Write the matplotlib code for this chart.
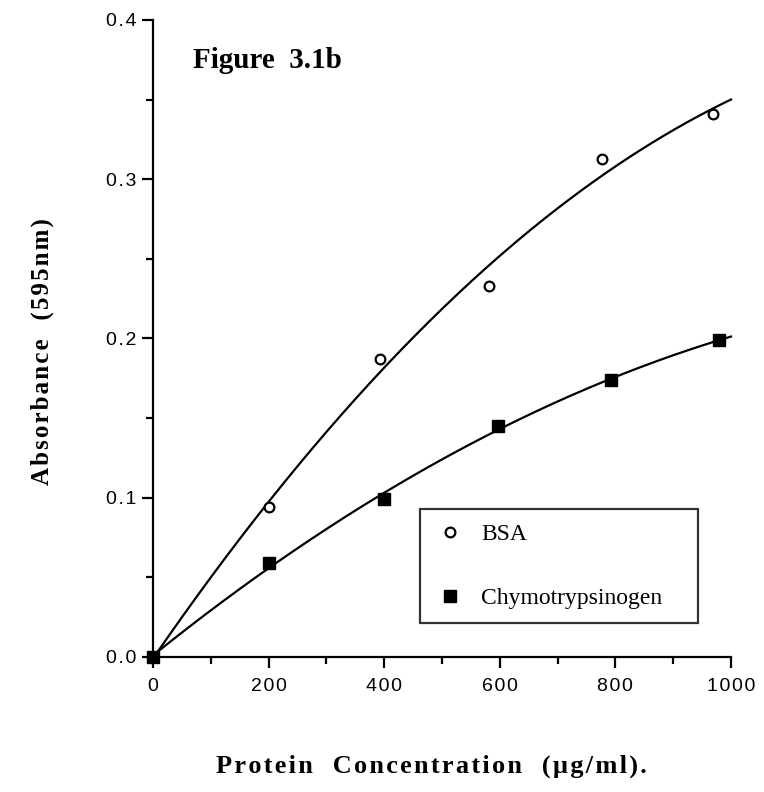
import numpy as np
import matplotlib
matplotlib.use("Agg")
import matplotlib.pyplot as plt
from matplotlib.ticker import MultipleLocator, FuncFormatter

# readings from the figure
conc_bsa = [0, 200, 393, 581, 777, 969]
abs_bsa = [0.0, 0.094, 0.187, 0.233, 0.313, 0.341]
conc_chymo = [0, 200, 400, 597, 792, 979]
abs_chymo = [0.0, 0.059, 0.099, 0.145, 0.174, 0.199]

HS = "\u200a"  # hair space, fakes the wide letter spacing of the scan


def spaced(s):
    return "   ".join(HS.join(w) for w in s.split(" "))


fig = plt.figure(figsize=(7.64, 7.92), dpi=100)
ax = fig.add_axes([0.2003, 0.1705, 0.7565, 0.8043])

# quadratic fits through the data, as in the original plot
xs = np.linspace(0, 1000, 200)
fit_bsa = np.polyfit(conc_bsa, abs_bsa, 2)
fit_chymo = np.polyfit(conc_chymo, abs_chymo, 2)
ax.plot(xs, np.polyval(fit_bsa, xs), color="black", lw=1.6, clip_on=False)
ax.plot(xs, np.polyval(fit_chymo, xs), color="black", lw=1.6, clip_on=False)

ax.plot(conc_bsa, abs_bsa, "o", ms=7, mfc="white", mec="black", mew=1.6,
        ls="none", label="BSA", clip_on=False, zorder=3)
ax.plot(conc_chymo, abs_chymo, "s", ms=9, color="black", ls="none",
        label="Chymotrypsinogen", clip_on=False, zorder=3)

ax.set_xlim(0, 1000)
ax.set_ylim(0, 0.4)
ax.xaxis.set_major_locator(MultipleLocator(200))
ax.xaxis.set_minor_locator(MultipleLocator(100))
ax.yaxis.set_major_locator(MultipleLocator(0.1))
ax.yaxis.set_minor_locator(MultipleLocator(0.05))
ax.xaxis.set_major_formatter(FuncFormatter(lambda v, p: HS.join(str(int(round(v))))))
ax.yaxis.set_major_formatter(FuncFormatter(lambda v, p: HS.join(f"{v:.1f}")))

for s in ["top", "right"]:
    ax.spines[s].set_visible(False)
for s in ["left", "bottom"]:
    ax.spines[s].set_linewidth(1.6)

ax.tick_params(which="major", direction="out", length=8, width=1.6, labelsize=14)
ax.tick_params(which="minor", direction="out", length=5, width=1.6)
ax.tick_params(axis="x", which="major", pad=7)
ax.tick_params(axis="y", which="major", pad=4)
for lbl in ax.get_xticklabels() + ax.get_yticklabels():
    lbl.set_family(["Liberation Sans", "DejaVu Sans"])

serif = ["Liberation Serif", "DejaVu Serif"]
ax.set_xlabel(spaced("Protein Concentration (\u00b5g/ml)."), family=serif,
              weight="bold", fontsize=19)
ax.set_ylabel(spaced("Absorbance (595nm)"), family=serif,
              weight="bold", fontsize=18)
ax.xaxis.set_label_coords(0.481, -0.153)
ax.yaxis.set_label_coords(-0.172, 0.479)

ax.text(0.07, 0.925, "Figure  3.1b", transform=ax.transAxes,
        family=serif, weight="bold", fontsize=21)

leg = ax.legend(loc="lower left", bbox_to_anchor=(0.462, 0.053, 0.481, 0.181),
                mode="expand", frameon=True, fancybox=False, edgecolor="black",
                prop={"family": serif, "size": 17},
                labelspacing=1.8, borderpad=0.6, handlelength=1.35,
                handletextpad=0.64, borderaxespad=0)
leg.get_frame().set_linewidth(1.6)

fig.savefig("out.png", dpi=100)
